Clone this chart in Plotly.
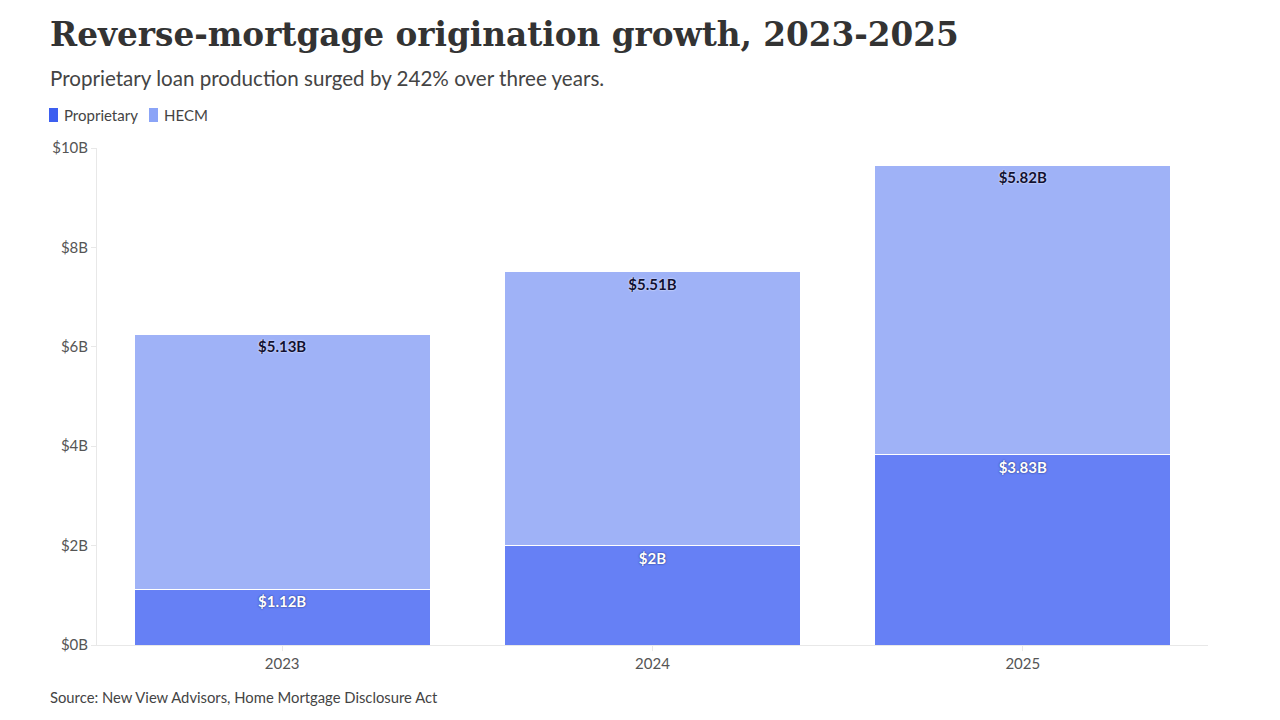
import plotly.graph_objects as go

years = ['2023', '2024', '2025']
proprietary = [1.12, 2, 3.83]
hecm = [5.13, 5.51, 5.82]
y_ticks = [0, 2, 4, 6, 8, 10]
y_labels = ['$0B', '$2B', '$4B', '$6B', '$8B', '$10B']

PROP = '#6680f5'
HECM = '#9fb2f7'
PROP_KEY = '#3d5ff0'
HECM_KEY = '#8ba4f7'
BODY = 'Lato, "Open Sans", sans-serif'

# page is drawn with an 8px body margin, so figure px = page px - 8
L, T, R, B = 89, 140, 80, 83
PW, PH = 1280 - L - R, 720 - T - B


def px(x):  # page x -> paper x
    return (x - 97) / PW


def py(y):  # page y -> paper y
    return (645 - y) / PH


fig = go.Figure()
fig.add_trace(go.Bar(x=years, y=proprietary, name='Proprietary', marker=dict(color=PROP, line=dict(color='white', width=1)),
    text=[f'${v}B' for v in proprietary], texttemplate='%{text}', textposition='inside', insidetextanchor='end',
    textfont=dict(family=BODY, size=15, color='white', weight='bold', shadow='0px 0px 2px #1a2a6c'),
    hovertemplate='%{x}<br>%{text}<extra>Proprietary</extra>'))
fig.add_trace(go.Bar(x=years, y=hecm, name='HECM', marker=dict(color=HECM, line=dict(color='white', width=1)),
    text=[f'${v}B' for v in hecm], texttemplate='%{text}', textposition='inside', insidetextanchor='end',
    textfont=dict(family=BODY, size=15, color='#111133', weight='bold', shadow='0px 0px 2px white'),
    hovertemplate='%{x}<br>%{text}<extra>HECM</extra>'))

fig.update_layout(
    barmode='stack', bargap=0.2, width=1280, height=720, showlegend=False,
    margin=dict(l=L, r=R, t=T, b=B),
    paper_bgcolor='white', plot_bgcolor='white',
    font=dict(family=BODY, size=15, color='#555555'),
    title=dict(text='<b>Reverse-mortgage origination growth, 2023-2025</b>',
        font=dict(family='"DejaVu Serif", serif', size=32.7, color='#333333'),
        x=42/1280, xanchor='left', y=1-27/720, yref='container', yanchor='middle'),
    uniformtext=dict(mode='show', minsize=15),
)
fig.add_annotation(text='Proprietary loan production surged by 242% over three years.', xref='paper', yref='paper',
    x=px(48), y=py(78), xanchor='left', yanchor='middle', showarrow=False,
    font=dict(family=BODY, size=20.6, color='#444444'))
fig.add_annotation(text='Source: New View Advisors, Home Mortgage Disclosure Act', xref='paper', yref='paper',
    x=px(48), y=py(697), xanchor='left', yanchor='middle', showarrow=False,
    font=dict(family=BODY, size=14.8, color='#444444'))

# legend keys
for name, col, x0 in [('Proprietary', PROP_KEY, 49), ('HECM', HECM_KEY, 149)]:
    fig.add_shape(type='rect', xref='paper', yref='paper', x0=px(x0), x1=px(x0 + 9), y0=py(122), y1=py(108),
        fillcolor=col, line=dict(width=0))
    fig.add_annotation(text=name, xref='paper', yref='paper', x=px(x0 + 13), y=py(115),
        xanchor='left', yanchor='middle', showarrow=False, font=dict(family=BODY, size=15, color='#444444'))

fig.update_yaxes(range=[0, 10], tickvals=y_ticks, ticktext=y_labels, showgrid=False, zeroline=False,
    showline=True, linecolor='#e8e8e8', ticks='outside', ticklen=5, tickcolor='#e8e8e8')
fig.update_xaxes(showgrid=False, showline=True, linecolor='#e8e8e8', ticks='outside', ticklen=5, tickcolor='#e8e8e8')

fig.write_html('out.html')
